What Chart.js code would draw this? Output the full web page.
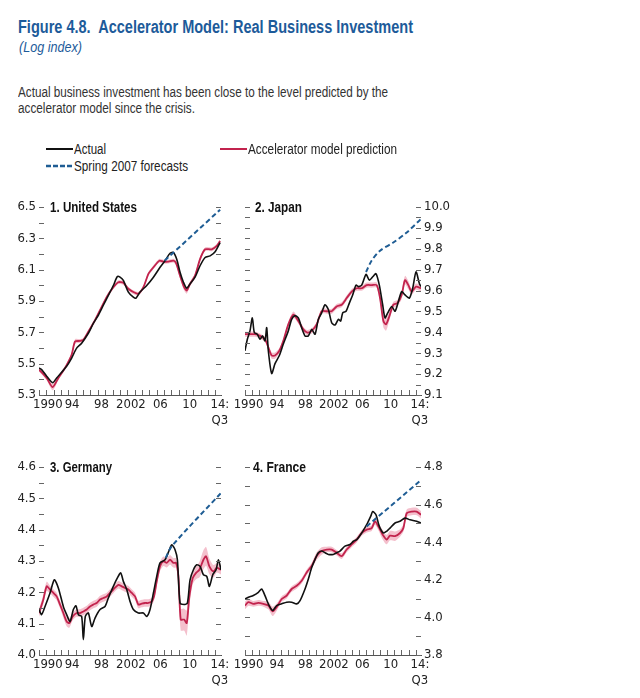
<!DOCTYPE html>
<html>
<head>
<meta charset="utf-8">
<script src="https://cdn.jsdelivr.net/npm/chart.js@4.4.0/dist/chart.umd.min.js"></script>
<style>
body { margin:0; background:#fff; width:640px; height:698px; position:relative; overflow:hidden;
  font-family:'Liberation Sans',Arial,sans-serif; color:#222; }
.abs { position:absolute; white-space:nowrap; z-index:2; transform-origin:left top; line-height:1.15; }
#title { left:18px; top:17px; font-size:17.5px; font-weight:bold; color:#1d5b9a; }
#sub { left:19px; top:39px; font-size:14px; font-style:italic; color:#1d5b9a; }
.note { font-size:14px; color:#333; }
.leg { font-size:14px; color:#222; }
.ptitle { font-size:14px; font-weight:bold; color:#111; }
canvas { position:absolute; }
</style>
</head>
<body>
<div class="abs" id="title" data-w="395">Figure 4.8.&nbsp; Accelerator Model: Real Business Investment</div>
<div class="abs" id="sub" data-w="63">(Log index)</div>
<div class="abs note" style="left:18px;top:84px" data-w="370">Actual business investment has been close to the level predicted by the</div>
<div class="abs note" style="left:18px;top:100px" data-w="177">accelerator model since the crisis.</div>

<svg class="abs" style="left:46px;top:144px" width="28" height="28">
  <line x1="0" y1="5" x2="27" y2="5" stroke="#111" stroke-width="2"/>
  <line x1="0" y1="22" x2="27" y2="22" stroke="#1f5d94" stroke-width="2.5" stroke-dasharray="5,2"/>
</svg>
<div class="abs leg" style="left:74px;top:141px" data-w="32">Actual</div>
<div class="abs leg" style="left:74px;top:158px" data-w="114">Spring 2007 forecasts</div>
<svg class="abs" style="left:220px;top:144px" width="28" height="10">
  <line x1="0" y1="5" x2="27" y2="5" stroke="#c2234d" stroke-width="2"/>
</svg>
<div class="abs leg" style="left:248px;top:141px" data-w="149">Accelerator model prediction</div>

<canvas id="us" width="235" height="255" style="left:0;top:190px"></canvas>
<canvas id="jp" width="225" height="255" style="left:230px;top:190px"></canvas>
<canvas id="de" width="235" height="248" style="left:0;top:450px"></canvas>
<canvas id="fr" width="225" height="248" style="left:230px;top:450px"></canvas>

<div class="abs ptitle" style="left:50px;top:199px" data-w="87">1. United States</div>
<div class="abs ptitle" style="left:255px;top:199px" data-w="47">2. Japan</div>
<div class="abs ptitle" style="left:50px;top:459px" data-w="62">3. Germany</div>
<div class="abs ptitle" style="left:253px;top:459px" data-w="53">4. France</div>

<script>
// squeeze the html text to the condensed widths of the original
document.querySelectorAll('[data-w]').forEach(el => {
  const w = el.getBoundingClientRect().width;
  el.style.transform = `scaleX(${el.dataset.w / w})`;
});

// x-axis labels (placed at mid-year); the left panels push "1990" clear of the y labels
const labelYears = [1990.5, 1994.5, 1998.5, 2002.5, 2006.5, 2010.5, 2014.6];
const labelYearsLeft = [1991.2, 1994.5, 1998.5, 2002.5, 2006.5, 2010.5, 2014.6];
const yearLabels = ['1990', '94', '98', '2002', '06', '10', ['14:', 'Q3']];

// [year, value]
const usActual = [[1990.0,5.473],[1990.36,5.462],[1991.04,5.42],[1991.86,5.378],[1992.4,5.409],[1993.08,5.445],
  [1993.76,5.483],[1994.44,5.536],[1995.12,5.599],[1995.8,5.631],[1996.71,5.694],[1997.39,5.757],[1998.07,5.809],
  [1998.75,5.873],[1999.43,5.936],[2000.11,5.999],[2000.66,6.056],[2001.02,6.052],[2001.47,6.031],[2002.15,5.957],
  [2002.83,5.925],[2003.2,5.919],[2003.74,5.957],[2004.65,5.999],[2005.56,6.052],[2006.46,6.115],[2007.14,6.157],
  [2007.82,6.205],[2008.28,6.209],[2008.73,6.167],[2009.18,6.083],[2009.64,6.02],[2010.09,5.982],[2010.54,6.009],
  [2011.22,6.052],[2011.9,6.125],[2012.59,6.178],[2013.27,6.188],[2013.95,6.214],[2014.63,6.273]];
// [year, value, band half-width]
const usPred = [[1990.0,5.462,.012],[1991.04,5.409,.015],[1991.86,5.35,.02],[1992.63,5.409,.015],[1993.54,5.473,.012],
  [1994.44,5.557,.015],[1994.9,5.641,.015],[1995.58,5.645,.012],[1996.03,5.652,.012],[1996.71,5.704,.012],
  [1997.62,5.778,.012],[1998.3,5.841,.012],[1999.2,5.925,.012],[2000.11,5.988,.012],[2000.79,6.02,.012],
  [2001.47,6.016,.012],[2002.15,5.978,.012],[2002.83,5.957,.012],[2003.51,5.946,.012],[2004.2,5.988,.012],
  [2004.88,6.073,.012],[2005.56,6.115,.012],[2006.37,6.157,.012],[2006.92,6.151,.012],[2007.6,6.151,.012],
  [2008.28,6.157,.012],[2008.64,6.142,.015],[2009.18,6.062,.02],[2009.73,5.988,.02],[2010.09,5.967,.02],
  [2010.54,6.009,.015],[2011.22,6.062,.015],[2011.9,6.167,.015],[2012.59,6.23,.012],[2013.49,6.23,.012],
  [2014.17,6.252,.012],[2014.63,6.283,.012]];
const usFcst = [[2007.1,6.158],[2014.63,6.483]];

const jpActual = [[1990.0,9.312],[1990.33,9.367],[1990.7,9.407],[1991.03,9.469],[1991.31,9.399],[1991.73,9.391],
  [1992.11,9.367],[1992.48,9.383],[1992.81,9.359],[1993.05,9.422],[1993.28,9.312],[1993.75,9.203],[1994.22,9.25],
  [1994.83,9.289],[1995.39,9.344],[1996.09,9.407],[1996.56,9.462],[1997.03,9.48],[1997.5,9.469],[1997.97,9.422],
  [1998.44,9.383],[1998.91,9.383],[1999.38,9.414],[1999.85,9.391],[2000.31,9.462],[2000.78,9.493],[2001.25,9.532],
  [2001.72,9.509],[2002.19,9.446],[2002.66,9.435],[2003.13,9.462],[2003.46,9.454],[2003.74,9.493],[2004.21,9.501],
  [2004.67,9.54],[2005.14,9.579],[2005.61,9.626],[2005.94,9.619],[2006.41,9.626],[2007.02,9.677],[2007.49,9.65],
  [2007.96,9.666],[2008.42,9.681],[2008.89,9.626],[2009.36,9.532],[2009.69,9.469],[2010.07,9.493],[2010.63,9.524],
  [2011.1,9.501],[2011.57,9.548],[2012.03,9.595],[2012.5,9.579],[2013.11,9.564],[2013.58,9.611],[2014.05,9.689],
  [2014.52,9.634],[2014.75,9.619]];
const jpPred = [[1990.0,9.391,.012],[1990.7,9.391,.012],[1991.41,9.391,.012],[1992.11,9.383,.012],[1992.81,9.367,.012],
  [1993.28,9.328,.012],[1993.75,9.289,.015],[1994.22,9.289,.015],[1994.83,9.312,.012],[1995.39,9.359,.012],
  [1996.09,9.438,.012],[1996.8,9.485,.015],[1997.5,9.454,.012],[1998.2,9.414,.012],[1998.77,9.399,.012],
  [1999.38,9.407,.012],[2000.08,9.438,.012],[2000.78,9.501,.012],[2001.49,9.501,.012],[2002.19,9.501,.012],
  [2002.89,9.524,.012],[2003.6,9.532,.012],[2004.3,9.564,.012],[2005.0,9.595,.012],[2005.71,9.611,.012],
  [2006.41,9.611,.012],[2007.11,9.626,.012],[2007.82,9.626,.012],[2008.52,9.626,.012],[2008.99,9.564,.02],
  [2009.46,9.454,.03],[2009.83,9.438,.03],[2010.3,9.477,.02],[2010.86,9.532,.015],[2011.43,9.54,.015],
  [2012.03,9.579,.02],[2012.5,9.65,.02],[2012.97,9.626,.02],[2013.44,9.595,.015],[2014.05,9.619,.015],[2014.75,9.611,.015]];
const jpFcst = [[2007.02,9.689],[2007.82,9.744],[2008.99,9.791],[2010.86,9.83],[2012.74,9.878],[2014.75,9.943]];

const deActual = [[1990.0,4.145],[1990.36,4.129],[1990.82,4.155],[1991.5,4.198],[1992.09,4.24],[1992.63,4.214],
  [1993.31,4.155],[1993.76,4.129],[1994.22,4.107],[1994.67,4.145],[1995.03,4.157],[1995.35,4.129],[1995.8,4.123],
  [1996.03,4.049],[1996.3,4.123],[1996.71,4.134],[1997.17,4.091],[1997.62,4.118],[1998.3,4.145],[1998.98,4.155],
  [1999.43,4.182],[2000.11,4.219],[2000.66,4.246],[2001.11,4.262],[2001.47,4.235],[2001.93,4.209],[2002.38,4.171],
  [2002.83,4.145],[2003.51,4.134],[2004.2,4.134],[2004.65,4.123],[2005.1,4.145],[2005.56,4.198],[2006.01,4.251],
  [2006.46,4.294],[2007.14,4.304],[2007.73,4.336],[2008.05,4.352],[2008.5,4.336],[2008.82,4.304],[2009.18,4.166],
  [2009.73,4.161],[2010.18,4.166],[2010.54,4.24],[2011.0,4.272],[2011.45,4.288],[2011.9,4.283],[2012.36,4.256],
  [2012.81,4.251],[2013.17,4.219],[2013.63,4.256],[2014.08,4.272],[2014.4,4.304],[2014.75,4.272]];
const dePred = [[1990.0,4.134,.012],[1990.59,4.177,.015],[1991.04,4.219,.015],[1991.5,4.209,.012],[1991.95,4.198,.012],
  [1992.4,4.187,.012],[1992.86,4.161,.012],[1993.31,4.134,.015],[1993.76,4.107,.015],[1994.13,4.102,.015],
  [1994.58,4.123,.012],[1995.12,4.134,.012],[1995.58,4.134,.012],[1996.03,4.139,.012],[1996.49,4.145,.012],
  [1996.94,4.155,.012],[1997.39,4.161,.012],[1997.85,4.166,.012],[1998.3,4.177,.012],[1998.75,4.182,.012],
  [1999.21,4.187,.012],[1999.66,4.198,.012],[2000.11,4.209,.012],[2000.79,4.224,.012],[2001.25,4.219,.012],
  [2001.7,4.214,.012],[2002.15,4.209,.012],[2002.61,4.198,.012],[2003.06,4.187,.012],[2003.51,4.161,.012],
  [2003.97,4.164,.012],[2004.42,4.166,.012],[2004.88,4.166,.012],[2005.33,4.171,.012],[2005.65,4.187,.012],
  [2006.01,4.235,.015],[2006.46,4.283,.015],[2006.92,4.299,.015],[2007.37,4.294,.015],[2007.82,4.304,.015],
  [2008.28,4.294,.015],[2008.64,4.294,.015],[2008.96,4.251,.025],[2009.27,4.113,.035],[2009.73,4.113,.035],
  [2010.09,4.102,.04],[2010.45,4.187,.03],[2010.91,4.246,.02],[2011.36,4.262,.02],[2011.81,4.272,.025],
  [2012.36,4.304,.03],[2012.72,4.315,.03],[2013.17,4.283,.025],[2013.72,4.267,.02],[2014.17,4.278,.015],[2014.75,4.272,.015]];
const deFcst = [[2007.23,4.31],[2008.05,4.347],[2014.75,4.517]];

const frActual = [[1990.0,4.098],[1990.47,4.107],[1991.17,4.116],[1991.88,4.133],[1992.34,4.151],[1992.81,4.116],
  [1993.28,4.072],[1993.89,4.037],[1994.45,4.063],[1995.16,4.072],[1995.86,4.081],[1996.56,4.081],[1997.27,4.072],
  [1997.74,4.089],[1998.44,4.151],[1998.91,4.204],[1999.38,4.265],[1999.85,4.309],[2000.31,4.344],[2000.78,4.353],
  [2001.25,4.344],[2001.72,4.335],[2002.42,4.335],[2002.89,4.344],[2003.36,4.353],[2004.06,4.379],[2004.77,4.388],
  [2005.24,4.405],[2005.71,4.414],[2006.41,4.449],[2007.11,4.493],[2007.67,4.537],[2007.96,4.563],[2008.42,4.546],
  [2008.89,4.484],[2009.46,4.449],[2009.92,4.458],[2010.39,4.475],[2011.1,4.502],[2011.8,4.511],[2012.5,4.528],
  [2013.21,4.519],[2014.14,4.511],[2014.75,4.502]];
const frPred = [[1990.0,4.063,.02],[1990.47,4.081,.02],[1991.17,4.072,.015],[1991.88,4.077,.015],[1992.58,4.072,.015],
  [1993.28,4.063,.02],[1993.89,4.032,.025],[1994.45,4.054,.02],[1995.16,4.098,.015],[1995.86,4.116,.015],
  [1996.56,4.151,.015],[1997.27,4.168,.015],[1997.97,4.195,.015],[1998.67,4.239,.015],[1999.38,4.274,.015],
  [2000.08,4.326,.02],[2000.78,4.353,.02],[2001.49,4.361,.015],[2002.19,4.361,.015],[2002.89,4.344,.015],
  [2003.6,4.326,.015],[2004.3,4.361,.015],[2005.0,4.388,.015],[2005.71,4.414,.015],[2006.41,4.449,.015],
  [2007.11,4.467,.015],[2007.82,4.475,.015],[2008.28,4.511,.02],[2008.75,4.484,.02],[2009.36,4.44,.025],
  [2009.92,4.414,.025],[2010.39,4.435,.025],[2011.1,4.432,.025],[2011.8,4.449,.02],[2012.27,4.475,.02],
  [2012.74,4.554,.02],[2013.44,4.563,.02],[2014.14,4.563,.02],[2014.75,4.546,.02]];
const frFcst = [[2007.11,4.484],[2014.75,4.73]];

Chart.defaults.font.family = "'DejaVu Sans Condensed','Liberation Sans',sans-serif";
Chart.defaults.color = '#222';

const inwardTicks = {
  id: 'inwardTicks',
  afterDraw(chart) {
    const { ctx, chartArea: a, scales: { x, y } } = chart;
    ctx.save();
    ctx.strokeStyle = '#666';
    ctx.lineWidth = 1;
    ctx.beginPath();
    for (let yr = 1990; yr <= 2014; yr++) {
      const px = Math.round(x.getPixelForValue(yr)) + 0.5;
      ctx.moveTo(px, a.bottom);
      ctx.lineTo(px, a.bottom - 5);
    }
    y.ticks.forEach(t => {
      const py = Math.round(y.getPixelForValue(t.value)) + 0.5;
      ctx.moveTo(a.left, py); ctx.lineTo(a.left + 5, py);
      ctx.moveTo(a.right - 5, py); ctx.lineTo(a.right, py);
    });
    ctx.stroke();
    ctx.restore();
  }
};

const pts = arr => arr.map(p => ({ x: p[0], y: p[1] }));

function makePanel(id, actual, pred, fcst, yMin, yMax, yStep, side, xHeight) {
  const right = side === 'right';
  const xLabelPos = right ? labelYears : labelYearsLeft;
  new Chart(document.getElementById(id), {
    type: 'line',
    data: {
      datasets: [
        { data: pts(fcst), borderColor: '#1f5d94', borderWidth: 2, borderDash: [5, 3], pointRadius: 0, tension: 0.3 },
        { data: pts(actual), borderColor: '#111', borderWidth: 1.6, pointRadius: 0, tension: 0.25 },
        { data: pts(pred), borderColor: '#c2234d', borderWidth: 1.8, pointRadius: 0, tension: 0.25 },
        { data: pred.map(p => ({ x: p[0], y: p[1] + p[2] })), borderWidth: 0, pointRadius: 0, tension: 0.25,
          fill: '+1', backgroundColor: '#f4c0cd' },
        { data: pred.map(p => ({ x: p[0], y: p[1] - p[2] })), borderWidth: 0, pointRadius: 0, tension: 0.25, fill: false }
      ]
    },
    options: {
      responsive: false,
      animation: false,
      layout: { padding: right ? { left: 15, right: 0, top: 17, bottom: 0 } : { left: 0, right: 14, top: 17, bottom: 0 } },
      plugins: { legend: { display: false }, tooltip: { enabled: false } },
      scales: {
        x: {
          type: 'linear', min: 1990, max: 2014.75,
          afterBuildTicks: s => { s.ticks = xLabelPos.map(v => ({ value: v })); },
          afterFit: s => { s.height = xHeight; },
          ticks: { autoSkip: false, maxRotation: 0, padding: 2, font: { size: 13 }, color: '#222',
                   callback: (v, i) => yearLabels[i] },
          grid: { display: false, drawTicks: false },
          border: { display: true, color: '#555', width: 1 }
        },
        y: {
          type: 'linear', position: side, min: yMin, max: yMax,
          afterBuildTicks: s => {
            const t = [];
            for (let v = yMin; v <= yMax + 1e-9; v += yStep) t.push({ value: +v.toFixed(3) });
            s.ticks = t;
          },
          afterFit: s => { s.width = right ? 34 : 39; },
          ticks: { autoSkip: false, padding: 3, font: { size: 13 }, color: '#222',
                   callback: (v, i) => i % 2 === 0 ? v.toFixed(1) : '' },
          grid: { display: false, drawTicks: false },
          border: { display: false }
        }
      }
    },
    plugins: [inwardTicks]
  });
}

makePanel('us', usActual, usPred, usFcst, 5.3, 6.5, 0.1, 'left', 50);
makePanel('jp', jpActual, jpPred, jpFcst, 9.1, 10.0, 0.05, 'right', 50);
makePanel('de', deActual, dePred, deFcst, 4.0, 4.6, 0.05, 'left', 43);
makePanel('fr', frActual, frPred, frFcst, 3.8, 4.8, 0.1, 'right', 43);
</script>
</body>
</html>
